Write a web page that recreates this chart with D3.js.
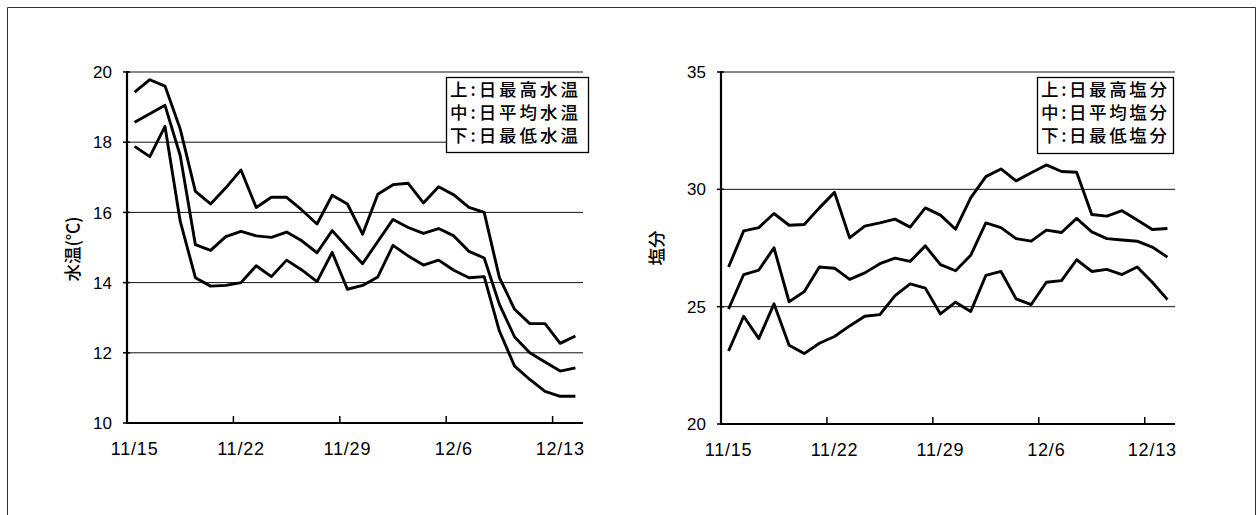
<!DOCTYPE html>
<html>
<head>
<meta charset="utf-8">
<script src="https://cdn.jsdelivr.net/npm/d3@7"></script>
<style>
  body { margin: 0; background: #fff; }
  .num { font-family: "Liberation Sans", Arial, sans-serif; font-size: 17px; }
  .xlab { font-family: "Liberation Sans", Arial, sans-serif; font-size: 18px; letter-spacing: 0.8px; }
  .jp { font-family: "Noto Sans CJK JP", sans-serif; }
</style>
</head>
<body>
<div id="chart"></div>
<script>
// categories (one per day)
const dates = ["11/15","11/16","11/17","11/18","11/19","11/20","11/21","11/22","11/23","11/24",
               "11/25","11/26","11/27","11/28","11/29","11/30","12/1","12/2","12/3","12/4",
               "12/5","12/6","12/7","12/8","12/9","12/10","12/11","12/12","12/13","12/14"];
const tickLabels = ["11/15","11/22","11/29","12/6","12/13"];

// water temperature (°C)
const tempMax  = [19.43,19.78,19.6,18.38,16.6,16.24,16.7,17.21,16.14,16.43,16.43,16.07,15.67,16.49,16.24,
                  15.38,16.52,16.79,16.83,16.27,16.73,16.5,16.14,16.0,14.14,13.24,12.83,12.83,12.27,12.48];
const tempMean = [18.57,18.81,19.05,17.62,15.08,14.92,15.31,15.46,15.33,15.29,15.44,15.19,14.85,15.48,15.0,
                  14.54,15.17,15.8,15.57,15.4,15.54,15.33,14.89,14.7,13.38,12.45,12.0,11.74,11.48,11.57];
const tempMin  = [17.88,17.59,18.45,15.75,14.14,13.9,13.92,14.0,14.48,14.17,14.64,14.36,14.03,14.86,13.81,
                  13.92,14.16,15.06,14.76,14.5,14.64,14.35,14.14,14.17,12.62,11.62,11.24,10.9,10.76,10.76];
const tempTicks = [10, 12, 14, 16, 18, 20];

// salinity
const salMax  = [26.69,28.23,28.37,28.97,28.47,28.5,29.21,29.87,27.93,28.43,28.57,28.73,28.39,29.21,28.9,
                 28.3,29.64,30.54,30.87,30.36,30.71,31.04,30.76,30.73,28.93,28.86,29.09,28.69,28.29,28.33];
const salMean = [24.9,26.37,26.56,27.51,25.21,25.64,26.69,26.64,26.16,26.44,26.83,27.07,26.93,27.59,26.79,
                 26.53,27.19,28.57,28.37,27.9,27.79,28.26,28.16,28.76,28.19,27.9,27.84,27.79,27.54,27.11];
const salMin  = [23.11,24.59,23.64,25.12,23.36,23.0,23.44,23.73,24.18,24.59,24.66,25.47,25.97,25.79,24.69,
                 25.19,24.79,26.33,26.5,25.33,25.09,26.04,26.11,27.0,26.5,26.59,26.37,26.69,26.04,25.3];
const salTicks = [20, 25, 30, 35];

const svg = d3.select("#chart").append("svg")
    .attr("width", 1257)
    .attr("height", 515);

// outer frame
svg.append("path")
    .attr("d", "M7.5,515 V7.5 H1255.5 V515")
    .attr("fill", "none")
    .attr("stroke", "#333")
    .attr("stroke-width", 1);

function drawPanel(p) {
    const x = d3.scaleBand().domain(dates).range([p.left, p.right]);
    const y = d3.scaleLinear().domain(d3.extent(p.ticks)).range([p.bottom, p.top]);
    const cx = d => x(d) + x.bandwidth() / 2;

    // gridlines
    svg.append("g").selectAll("line")
        .data(p.ticks.slice(1))
        .enter().append("line")
        .attr("x1", p.left).attr("x2", p.right)
        .attr("y1", d => y(d)).attr("y2", d => y(d))
        .attr("stroke", "#111")
        .attr("stroke-width", 1);

    // y tick labels
    svg.append("g").selectAll("text")
        .data(p.ticks)
        .enter().append("text")
        .attr("class", "num")
        .attr("x", p.left - 15)
        .attr("y", d => y(d))
        .attr("dy", "0.36em")
        .attr("text-anchor", "end")
        .text(d => d);

    // y ticks
    svg.append("g").selectAll("line")
        .data(p.ticks)
        .enter().append("line")
        .attr("x1", p.left - 4).attr("x2", p.left + 3)
        .attr("y1", d => y(d)).attr("y2", d => y(d))
        .attr("stroke", "#000")
        .attr("stroke-width", 1.5);

    // x ticks (between categories) and labels
    svg.append("g").selectAll("line")
        .data(tickLabels)
        .enter().append("line")
        .attr("x1", d => x(d)).attr("x2", d => x(d))
        .attr("y1", p.bottom).attr("y2", p.bottom - 7)
        .attr("stroke", "#000")
        .attr("stroke-width", 1.5);

    svg.append("g").selectAll("text")
        .data(tickLabels)
        .enter().append("text")
        .attr("class", "xlab")
        .attr("x", d => cx(d))
        .attr("y", p.bottom + 32)
        .attr("text-anchor", "middle")
        .text(d => d);

    // axes
    svg.append("line")
        .attr("x1", p.left).attr("x2", p.left)
        .attr("y1", p.top - 1).attr("y2", p.bottom + 1)
        .attr("stroke", "#000").attr("stroke-width", 2.2);
    svg.append("line")
        .attr("x1", p.left - 1).attr("x2", p.right)
        .attr("y1", p.bottom).attr("y2", p.bottom)
        .attr("stroke", "#000").attr("stroke-width", 2.2);

    // y axis title
    svg.append("text")
        .attr("class", "jp")
        .attr("transform", `translate(${p.titleX},${p.titleY}) rotate(-90)`)
        .attr("text-anchor", "middle")
        .attr("dy", "0.35em")
        .style("font-size", "17.5px")
        .style("font-weight", 500)
        .text(p.title);

    // series lines
    const line = d3.line()
        .x((d, i) => cx(dates[i]))
        .y(d => y(d));

    p.series.forEach(s => {
        svg.append("path")
            .datum(s)
            .attr("d", line)
            .attr("fill", "none")
            .attr("stroke", "#000")
            .attr("stroke-width", 2.9)
            .attr("stroke-linejoin", "round");
    });

    // legend
    const lg = svg.append("g");
    lg.append("rect")
        .attr("x", p.legend.x + 0.5).attr("y", p.legend.y + 0.5)
        .attr("width", p.legend.w).attr("height", p.legend.h)
        .attr("fill", "#fff")
        .attr("stroke", "#000")
        .attr("stroke-width", 1.3);

    lg.selectAll("text")
        .data(p.legendLines)
        .enter().append("text")
        .attr("class", "jp")
        .attr("x", p.legend.x + 4)
        .attr("y", (d, i) => p.legend.y + 13 + i * 23)
        .attr("dy", "0.36em")
        .attr("textLength", p.legend.tw)
        .attr("lengthAdjust", "spacing")
        .style("font-size", "17.5px")
        .style("font-weight", 500)
        .text(d => d);
}

drawPanel({
    left: 127, right: 583, top: 72, bottom: 423,
    ticks: tempTicks,
    series: [tempMax, tempMean, tempMin],
    title: "水温(℃)", titleX: 73, titleY: 249,
    legend: { x: 446, y: 77, w: 142, h: 75, tw: 128 },
    legendLines: ["上:日最高水温", "中:日平均水温", "下:日最低水温"]
});

drawPanel({
    left: 721, right: 1175, top: 72, bottom: 424,
    ticks: salTicks,
    series: [salMax, salMean, salMin],
    title: "塩分", titleX: 657, titleY: 248,
    legend: { x: 1037, y: 77, w: 136, h: 76, tw: 126 },
    legendLines: ["上:日最高塩分", "中:日平均塩分", "下:日最低塩分"]
});
</script>
</body>
</html>
